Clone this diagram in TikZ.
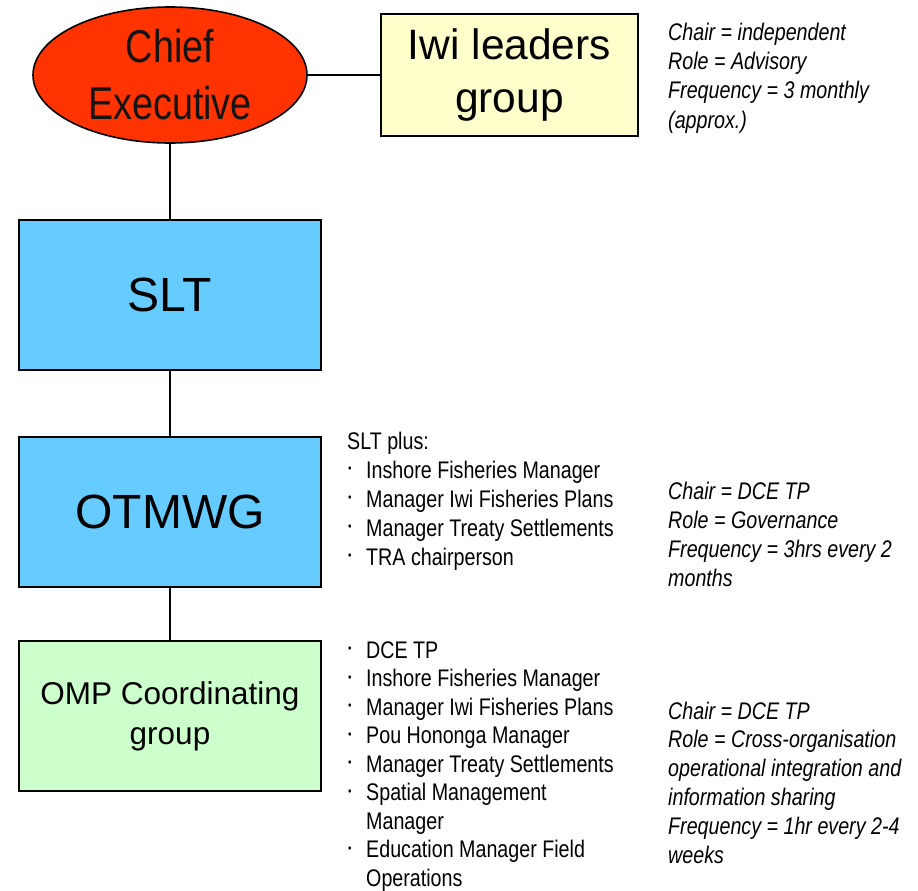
\documentclass[tikz,border=0pt]{standalone}
\usepackage{fontspec}
\setmainfont{Liberation Sans}
\newfontfamily\narrowfont[FakeStretch=0.82]{Liberation Sans}
\usetikzlibrary{shapes.geometric}

\definecolor{ceored}{HTML}{FF3300}
\definecolor{iwiyellow}{HTML}{FFFFCC}
\definecolor{teamblue}{HTML}{66CCFF}
\definecolor{ompgreen}{HTML}{CCFFCC}

% bulleted line and its continuation indent
\newcommand\bitem[1]{\makebox[19pt][l]{\hspace{1pt}\raisebox{5.5pt}{\fontsize{12}{12}\selectfont •}}#1}
\newcommand\bcont[1]{\hspace*{19pt}#1}

\begin{document}
\begin{tikzpicture}[x=1pt,y=-1pt,
  box/.style={draw=black, line width=2pt, minimum width=302pt, minimum height=150pt,
              inner sep=0pt, align=center},
  wire/.style={draw=black, line width=1.8pt},
  listline/.style={anchor=base west, inner sep=0pt, font=\narrowfont\fontsize{24}{29}\selectfont},
  noteline/.style={anchor=base west, inner sep=0pt, font=\narrowfont\itshape\fontsize{24}{29}\selectfont},
]
\useasboundingbox (0,0) rectangle (918,891);

% Chief Executive
\node[ellipse, draw=black, line width=1.6pt, fill=ceored, minimum width=274pt,
      minimum height=136pt, inner sep=0pt] (ceo) at (170,75) {};
\node[align=center, inner sep=0pt, font=\narrowfont\fontsize{46}{57}\selectfont,
      text=black!92] (ceotext) at (ceo.center) {Chief\\Executive};

% Iwi leaders group
\node[box, fill=iwiyellow, minimum width=257pt, minimum height=121pt,
      font=\fontsize{42.5}{53}\selectfont] (iwi) at (509.5,75) {Iwi leaders\\group};

% main chain of boxes
\node[box, fill=teamblue, font=\fontsize{48}{56}\selectfont] (slt) at (170,295) {SLT};
\node[box, fill=teamblue, font=\fontsize{48}{56}\selectfont] (otmwg) at (170,512) {OTMWG};
\node[box, fill=ompgreen, font=\fontsize{31.5}{40}\selectfont] (omp) at (170,716) {OMP Coordinating\\group};

% connectors
\draw[wire] (ceo.east) -- (iwi.west);
\draw[wire] (ceo.south) -- (slt.north);
\draw[wire] (slt.south) -- (otmwg.north);
\draw[wire] (otmwg.south) -- (omp.north);

% Iwi leaders group notes
\foreach \t [count=\i] in {Chair = independent, Role = Advisory, Frequency = 3 monthly, {\textit{(approx.)}}}
  \node[noteline] (iwinote-\i) at (668, 41+29*\i-29) {\t};

% OTMWG membership
\foreach \t [count=\i] in {SLT plus:, \bitem{Inshore Fisheries Manager}, \bitem{Manager Iwi Fisheries Plans},
    \bitem{Manager Treaty Settlements}, \bitem{TRA chairperson}}
  \node[listline] (otmwglist-\i) at (347, 449+29*\i-29) {\t};

% OTMWG notes
\foreach \t [count=\i] in {Chair = DCE TP, Role = Governance, Frequency = 3hrs every 2, months}
  \node[noteline] (otmwgnote-\i) at (668, 499+29*\i-29) {\t};

% OMP Coordinating group membership
\foreach \t [count=\i] in {\bitem{DCE TP}, \bitem{Inshore Fisheries Manager}, \bitem{Manager Iwi Fisheries Plans},
    \bitem{Pou Hononga Manager}, \bitem{Manager Treaty Settlements}, \bitem{Spatial Management},
    \bcont{Manager}, \bitem{Education Manager Field}, \bcont{Operations}}
  \node[listline] (omplist-\i) at (347, 658+28.5*\i-28.5) {\t};

% OMP Coordinating group notes
\foreach \t [count=\i] in {Chair = DCE TP, Role = Cross-organisation, operational integration and,
    information sharing, Frequency = 1hr every 2-4, weeks}
  \node[noteline] (ompnote-\i) at (668, 719+28.8*\i-28.8) {\t};
\end{tikzpicture}
\end{document}
